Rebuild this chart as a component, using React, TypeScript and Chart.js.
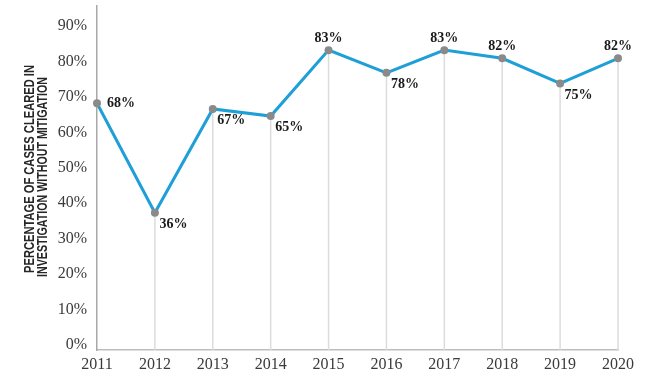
import React, { useEffect, useRef } from "react";
import { Chart, registerables } from "chart.js";

Chart.register(...registerables);

const years = ["2011", "2012", "2013", "2014", "2015", "2016", "2017", "2018", "2019", "2020"];
const clearedValues = [68.2, 37.3, 66.6, 64.6, 83.2, 76.8, 83.2, 80.9, 73.8, 80.9];
const valueLabels = ["68%", "36%", "67%", "65%", "83%", "78%", "83%", "82%", "75%", "82%"];
const yTickValues = [0, 10, 20, 30, 40, 50, 60, 70, 80, 90];
const titleLines = ["PERCENTAGE OF CASES CLEARED IN", "INVESTIGATION WITHOUT MITIGATION"];
const labelPlacement = ["right", "below", "below", "below", "above", "below", "above", "above", "below", "above"];

const dropLinePlugin = {
  id: "dropLines",
  beforeDatasetsDraw(chart: any) {
    const ctx = chart.ctx;
    const meta = chart.getDatasetMeta(0);
    const bottom = chart.chartArea.bottom;
    ctx.save();
    ctx.strokeStyle = "#dcdcdc";
    ctx.lineWidth = 1.5;
    meta.data.forEach((pt: any, i: number) => {
      if (i === 0) return;
      ctx.beginPath();
      ctx.moveTo(pt.x, pt.y);
      ctx.lineTo(pt.x, bottom);
      ctx.stroke();
    });
    ctx.restore();
  },
};

const valueLabelPlugin = {
  id: "valueLabels",
  afterDatasetsDraw(chart: any) {
    const ctx = chart.ctx;
    const meta = chart.getDatasetMeta(0);
    ctx.save();
    ctx.font = "bold 14px 'Liberation Serif', 'Times New Roman', serif";
    ctx.fillStyle = "#1a1a1a";
    ctx.textBaseline = "middle";
    meta.data.forEach((pt: any, i: number) => {
      const place = labelPlacement[i];
      const text = valueLabels[i];
      if (place === "above") {
        ctx.textAlign = "center";
        ctx.fillText(text, pt.x, pt.y - 11.5);
      } else if (place === "right") {
        ctx.textAlign = "left";
        ctx.fillText(text, pt.x + 10, pt.y);
      } else {
        ctx.textAlign = "left";
        ctx.fillText(text, pt.x + 4.5, pt.y + 11.5);
      }
    });
    ctx.restore();
  },
};

const axisTitlePlugin = {
  id: "axisTitle",
  afterDraw(chart: any) {
    const ctx = chart.ctx;
    const specs = [
      { x: 30.5, from: 273, to: 65 },
      { x: 43.5, from: 277, to: 77 },
    ];
    ctx.save();
    ctx.font = "bold 14px 'Liberation Sans', Arial, sans-serif";
    ctx.fillStyle = "#262626";
    ctx.textBaseline = "middle";
    ctx.textAlign = "left";
    titleLines.forEach((line, i) => {
      const s = specs[i];
      const w = ctx.measureText(line).width;
      const target = s.from - s.to;
      ctx.save();
      ctx.translate(s.x, s.from);
      ctx.rotate(-Math.PI / 2);
      ctx.scale(target / w, 1);
      ctx.fillText(line, 0, 0);
      ctx.restore();
    });
    ctx.restore();
  },
};

export default function App() {
  const canvasRef = useRef<HTMLCanvasElement | null>(null);

  useEffect(() => {
    if (!canvasRef.current) return;
    const chart = new Chart(canvasRef.current, {
      type: "line",
      data: {
        labels: years,
        datasets: [
          {
            data: clearedValues,
            borderColor: "#1f9fd8",
            borderWidth: 3,
            pointBackgroundColor: "#8a8a8a",
            pointBorderColor: "#8a8a8a",
            pointBorderWidth: 0,
            pointRadius: 4,
            tension: 0,
            fill: false,
          },
        ],
      },
      options: {
        animation: false,
        responsive: false,
        devicePixelRatio: 1,
        layout: { padding: { top: 6, right: 32, bottom: 0, left: 0 } },
        plugins: {
          legend: { display: false },
          tooltip: { enabled: false },
        },
        scales: {
          x: {
            offset: false,
            grid: { display: false, drawTicks: false },
            border: { display: true, color: "#bdbdbd", width: 1.5 },
            ticks: {
              font: { family: "'Liberation Serif', 'Times New Roman', serif", size: 16 },
              color: "#3a3a3a",
              padding: 5,
              maxRotation: 0,
              autoSkip: false,
            },
            afterFit(scale: any) {
              scale.height = 30;
            },
          },
          y: {
            min: -1.41,
            max: 95.65,
            grid: { display: false, drawTicks: false },
            border: { display: true, color: "#a8a8a8", width: 1.5 },
            afterBuildTicks(scale: any) {
              scale.ticks = yTickValues.map((v) => ({ value: v }));
            },
            ticks: {
              font: { family: "'Liberation Serif', 'Times New Roman', serif", size: 16 },
              color: "#3a3a3a",
              padding: 10,
              callback: (v: any) => `${v}%`,
            },
            afterFit(scale: any) {
              scale.width = 97;
              scale.paddingTop = 0;
              scale.paddingBottom = 0;
            },
          },
        },
      },
      plugins: [dropLinePlugin, valueLabelPlugin, axisTitlePlugin],
    });
    return () => chart.destroy();
  }, []);

  return (
    <div style={{ position: "fixed", left: 0, top: 0, width: 650, height: 380, background: "#ffffff" }}>
      <canvas ref={canvasRef} width={650} height={380} style={{ display: "block" }} />
    </div>
  );
}
